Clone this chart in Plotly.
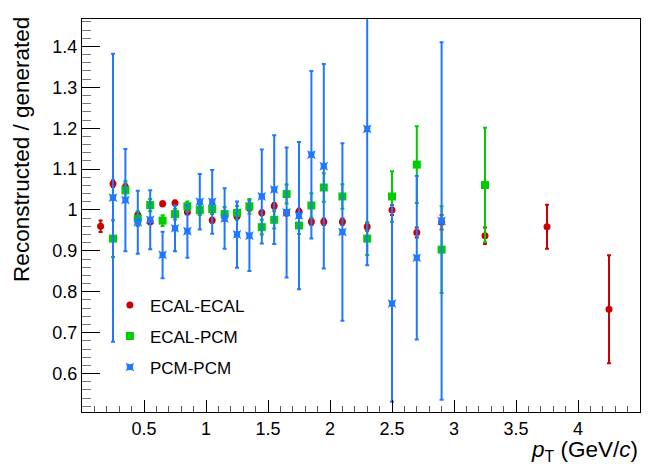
import plotly.graph_objects as go

# ---------------- data ----------------
pt_ee = [0.15, 0.25, 0.35, 0.45, 0.55, 0.65, 0.75, 0.85, 0.95, 1.05, 1.15, 1.25, 1.35,
         1.45, 1.55, 1.65, 1.75, 1.85, 1.95, 2.1, 2.3, 2.5, 2.7, 2.9, 3.25, 3.75, 4.25]
ratio_ee = [0.960, 1.064, 1.056, 0.988, 0.971, 1.015, 1.017, 0.995, 0.997, 0.975, 0.985, 0.984, 1.005,
            0.993, 1.010, 0.993, 0.996, 0.971, 0.971, 0.971, 0.959, 1.000, 0.945, 0.970, 0.937, 0.959, 0.757]
err_ee = [0.014, 0.008, 0.008, 0.007, 0.006, 0.006, 0.006, 0.006, 0.006, 0.006, 0.006, 0.006, 0.006,
          0.006, 0.007, 0.007, 0.007, 0.008, 0.008, 0.008, 0.010, 0.012, 0.012, 0.018, 0.020, 0.054, 0.132]

pt_ep = [0.25, 0.35, 0.45, 0.55, 0.65, 0.75, 0.85, 0.95, 1.05, 1.15, 1.25, 1.35,
         1.45, 1.55, 1.65, 1.75, 1.85, 1.95, 2.1, 2.3, 2.5, 2.7, 2.9, 3.25]
ratio_ep = [0.930, 1.048, 0.979, 1.012, 0.974, 0.990, 1.009, 1.000, 1.002, 0.990, 0.993, 1.009,
            0.958, 0.976, 1.039, 0.962, 1.011, 1.055, 1.033, 0.930, 1.033, 1.111, 0.903, 1.061]
err_ep = [0.045, 0.022, 0.018, 0.015, 0.013, 0.013, 0.012, 0.012, 0.012, 0.017, 0.017, 0.018,
          0.018, 0.021, 0.023, 0.021, 0.030, 0.035, 0.030, 0.040, 0.062, 0.094, 0.106, 0.140]

pt_pp = [0.25, 0.35, 0.45, 0.55, 0.65, 0.75, 0.85, 0.95, 1.05, 1.15, 1.25, 1.35,
         1.45, 1.55, 1.65, 1.75, 1.85, 1.95, 2.1, 2.3, 2.5, 2.7, 2.9]
ratio_pp = [1.030, 1.024, 0.970, 0.976, 0.890, 0.955, 0.948, 1.020, 1.020, 0.979, 0.940, 0.937,
            1.033, 1.050, 0.994, 0.986, 1.135, 1.107, 0.946, 1.198, 0.771, 0.883, 0.973]
err_pp = [0.352, 0.125, 0.077, 0.072, 0.057, 0.056, 0.065, 0.068, 0.078, 0.074, 0.081, 0.086,
          0.115, 0.133, 0.159, 0.180, 0.205, 0.250, 0.217, 0.333, 0.240, 0.200, 0.437]

x_ticks = [0.5, 1, 1.5, 2, 2.5, 3, 3.5, 4]
x_ticklabels = ["0.5", "1", "1.5", "2", "2.5", "3", "3.5", "4"]
y_ticks = [0.6, 0.7, 0.8, 0.9, 1.0, 1.1, 1.2, 1.3, 1.4]
y_ticklabels = ["0.6", "0.7", "0.8", "0.9", "1", "1.1", "1.2", "1.3", "1.4"]

RED = "#cc0000"
GREEN = "#00cc00"
BLUE = "#1f78ff"
FONT = "Liberation Sans, Arial, sans-serif"

fig = go.Figure()

fig.add_trace(go.Scatter(
    x=pt_ee, y=ratio_ee, mode="markers", name="ECAL-ECAL", legendgroup="a",
    marker=dict(symbol="circle", size=7, color=RED),
    error_y=dict(type="data", array=err_ee, color=RED, thickness=2, width=2),
))
fig.add_trace(go.Scatter(
    x=pt_ep, y=ratio_ep, mode="markers", name="ECAL-PCM", legendgroup="b",
    marker=dict(symbol="square", size=8, color=GREEN),
    error_y=dict(type="data", array=err_ep, color=GREEN, thickness=2, width=2),
))
fig.add_trace(go.Scatter(
    x=pt_pp, y=ratio_pp, mode="markers", name="PCM-PCM", legendgroup="c",
    marker=dict(symbol="star-square", size=8, color=BLUE),
    error_y=dict(type="data", array=err_pp, color=BLUE, thickness=2, width=2),
))

fig.update_layout(
    width=651, height=466,
    margin=dict(l=82, r=11, t=19, b=54, autoexpand=False),
    paper_bgcolor="white", plot_bgcolor="white",
    font=dict(family=FONT, color="black", size=18),
    showlegend=True,
    legend=dict(
        x=0.05, y=0.317, xanchor="left", yanchor="top",
        bgcolor="rgba(0,0,0,0)", font=dict(size=17, family=FONT),
        traceorder="grouped", tracegroupgap=6, itemwidth=30,
    ),
    xaxis=dict(
        range=[0, 4.5], showgrid=False, zeroline=False, automargin=False,
        showline=True, linecolor="black", linewidth=1, mirror=True,
        ticks="inside", ticklen=12, tickcolor="black", tickwidth=1,
        tickvals=x_ticks, ticktext=x_ticklabels,
        tickfont=dict(size=18, family=FONT),
        minor=dict(dtick=0.1, tick0=0, ticks="inside", ticklen=6, tickcolor="#555555", showgrid=False),
    ),
    yaxis=dict(
        range=[0.506, 1.467], showgrid=False, zeroline=False, automargin=False,
        showline=True, linecolor="black", linewidth=1, mirror=True,
        ticks="inside", ticklen=18, tickcolor="black", tickwidth=1,
        tickvals=y_ticks, ticktext=y_ticklabels,
        tickfont=dict(size=18, family=FONT),
        minor=dict(dtick=0.02, tick0=0.5, ticks="inside", ticklen=9, tickcolor="#777777", showgrid=False),
    ),
)

# y-axis title (ROOT style: aligned to the top end of the axis)
fig.add_annotation(
    text="Reconstructed / generated", textangle=-90,
    xref="paper", yref="paper", x=-0.1075, y=0.667, xanchor="center", yanchor="middle",
    showarrow=False, font=dict(size=22.5, family=FONT),
)

# x-axis title (ROOT style: aligned to the right end of the axis)
fig.add_annotation(
    text="<i>p</i><sub>T</sub> (GeV/<i>c</i>)",
    xref="paper", yref="paper", x=1.0, y=-0.058, xanchor="right", yanchor="top",
    showarrow=False, font=dict(size=22.5, family=FONT),
)

fig.write_html(
    "out.html",
    config={"displayModeBar": False},
    post_script="document.body.style.margin='0px';document.body.style.overflow='hidden';",
)
